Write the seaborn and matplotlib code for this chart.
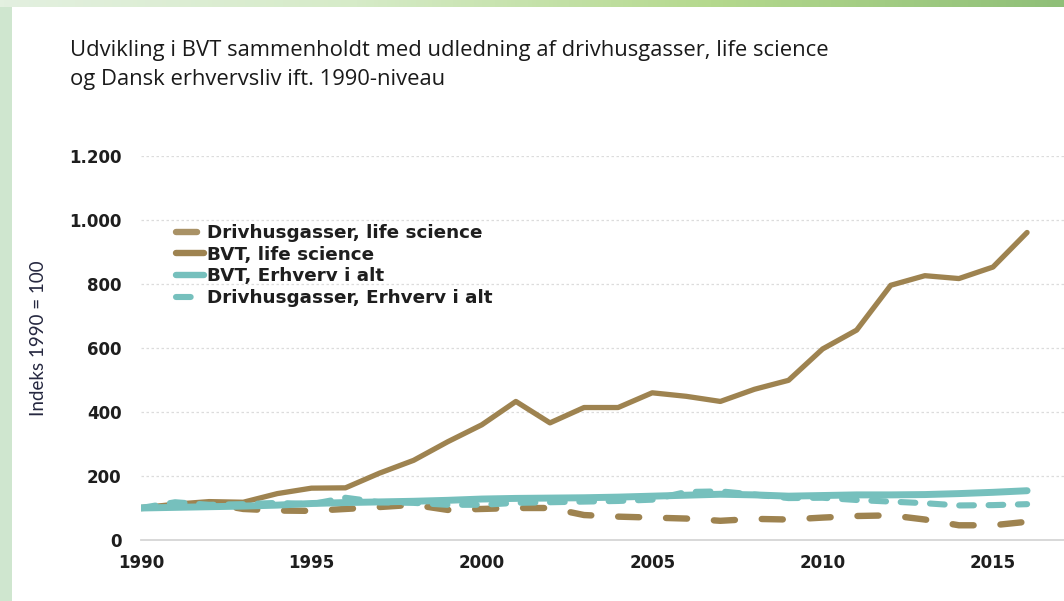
import numpy as np
import pandas as pd
import seaborn as sns
import matplotlib
matplotlib.use('Agg')
from matplotlib import pyplot as plt
from matplotlib.patches import Rectangle
from matplotlib.lines import Line2D
from matplotlib.ticker import FuncFormatter

#### DATA #####################################################################
years = list(range(1990, 2017))
ghg_ls = [100, 106, 115, 97, 92, 91, 97, 103, 110, 94, 97, 100, 100, 78, 73,
          70, 67, 60, 66, 64, 70, 75, 77, 64, 46, 46, 57]
bvt_ls = [100, 112, 120, 118, 145, 162, 163, 209, 249, 307, 360, 433, 366, 414,
          414, 460, 449, 433, 471, 499, 597, 656, 796, 826, 817, 853, 961]
bvt_dk = [100, 102, 104, 106, 109, 114, 117, 119, 121, 124, 128, 130, 131, 132,
          134, 137, 140, 143, 141, 137, 139, 141, 141, 142, 145, 149, 154]
ghg_dk = [100, 118, 110, 112, 116, 112, 132, 118, 116, 110, 110, 116, 118, 120,
          122, 126, 150, 152, 142, 131, 132, 125, 120, 115, 108, 109, 112]

labels = ['Drivhusgasser, life science', 'BVT, life science',
          'BVT, Erhverv i alt', 'Drivhusgasser, Erhverv i alt']
title = ('Udvikling i BVT sammenholdt med udledning af drivhusgasser, life science\n'
         'og Dansk erhvervsliv ift. 1990-niveau')

brown = '#9e8350'
brown_light = '#a99266'
teal = '#76c0bd'
dash_brown = [3.3, 4.2]
dash_teal = [2.4, 2.4]

#### PLOT #####################################################################
sns.set_style('white')
plt.rcParams['font.family'] = ['DejaVu Sans']

fig = plt.figure(figsize=(10.64, 6.01), dpi=100)
fig.patch.set_facecolor('#cfe6cf')
# white card
fig.patches.append(Rectangle((12 / 1064, 0), 1, 1 - 7 / 601, transform=fig.transFigure,
                             facecolor='white', edgecolor='none', zorder=-5))
# top decorative strip
strip = fig.add_axes([0, 1 - 7 / 601, 1, 7 / 601])
grad = np.linspace(0, 1, 256).reshape(1, -1)
strip.imshow(grad, aspect='auto', cmap=matplotlib.colors.LinearSegmentedColormap.from_list(
    'g', ['#e3f0e0', '#d6ebc8', '#b5d98e', '#8fbf78']))
strip.axis('off')

ax = fig.add_axes([141 / 1064, 61 / 601, (1064 - 141) / 1064, (540 - 156) / 601])
ax.set_facecolor('none')
ax.set_zorder(3)

df = pd.DataFrame({'year': years, 'ghg_ls': ghg_ls, 'bvt_ls': bvt_ls,
                   'bvt_dk': bvt_dk, 'ghg_dk': ghg_dk})

sns.lineplot(data=df, x='year', y='ghg_ls', ax=ax, color=brown, lw=4.6)
sns.lineplot(data=df, x='year', y='bvt_ls', ax=ax, color=brown, lw=3.8)
sns.lineplot(data=df, x='year', y='bvt_dk', ax=ax, color=teal, lw=5.0)
sns.lineplot(data=df, x='year', y='ghg_dk', ax=ax, color=teal, lw=4.4)

lines = ax.get_lines()
lines[0].set_dashes(dash_brown)
lines[3].set_dashes(dash_teal)
for ln in lines:
    ln.set_dash_capstyle('round')
    ln.set_solid_capstyle('round')
    ln.set_solid_joinstyle('round')

ax.set_xlim(1990, 1990 + (1064 - 141) / 34.08)
ax.set_ylim(0, 1200)
ax.set_yticks(range(0, 1201, 200))
ax.set_xticks(range(1990, 2016, 5))
ax.yaxis.set_major_formatter(FuncFormatter(lambda v, p: f'{int(v):,}'.replace(',', '.')))
ax.grid(axis='y', color='#dcdcdc', ls=(0, (2, 2)), lw=0.9)
ax.grid(axis='x', visible=False)
for s in ['top', 'right', 'left']:
    ax.spines[s].set_visible(False)
ax.spines['bottom'].set_color('#d6d6d6')
ax.spines['bottom'].set_linewidth(1.3)
ax.tick_params(axis='x', length=5, width=1, color='#d6d6d6', pad=5,
               labelsize=12, labelcolor='#1e1e1e')
ax.tick_params(axis='y', length=0, pad=14, labelsize=12, labelcolor='#1e1e1e')
for t in ax.get_xticklabels() + ax.get_yticklabels():
    t.set_fontweight('bold')
ax.set_xlabel('')
ax.set_ylabel('')

fig.text(39 / 1064, 1 - 338 / 601, 'Indeks 1990 = 100', rotation=90, ha='center',
         va='center', fontsize=13.5, color='#262840', fontweight='normal',
         family=['Lato', 'DejaVu Sans'])
fig.text(70 / 1064, 1 - 40 / 601, title, ha='left', va='top', fontsize=15.8,
         color='#1a1a1a', family=['Open Sans', 'DejaVu Sans'], linespacing=1.5)

handles = [Line2D([0], [0], color=brown_light, lw=4.6, dashes=dash_brown,
                  dash_capstyle='round'),
           Line2D([0], [0], color=brown, lw=4.6, solid_capstyle='round'),
           Line2D([0], [0], color=teal, lw=4.6, solid_capstyle='round'),
           Line2D([0], [0], color=teal, lw=4.4, dashes=dash_teal,
                  dash_capstyle='round')]
leg = ax.legend(handles, labels, loc='upper left', bbox_to_anchor=(0.038, 0.823),
                frameon=False, prop={'weight': 'bold', 'size': 13.2},
                handlelength=1.55, handletextpad=0.15, labelspacing=0.2,
                borderaxespad=0, borderpad=0)
for t in leg.get_texts():
    t.set_color('#1e1e1e')

fig.savefig('out.png', dpi=100)
